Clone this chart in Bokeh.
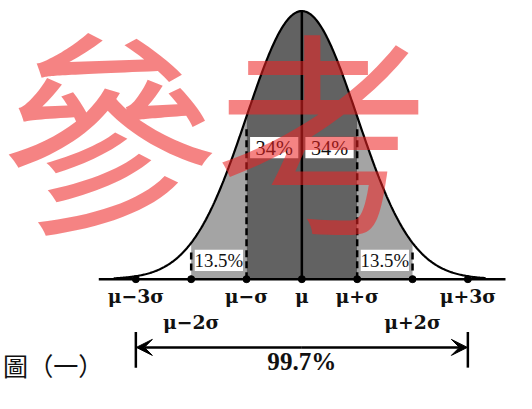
import numpy as np
from bokeh.plotting import figure
from bokeh.models import Range1d, Arrow, VeeHead
from bokeh.core.properties import value
from bokeh.embed import file_html
from bokeh.resources import INLINE

# ---- data ----
sigma_mult = [-3, -2, -1, 0, 1, 2, 3]
tick_labels = ["μ−3σ", "μ−2σ", "μ−σ", "μ", "μ+σ", "μ+2σ", "μ+3σ"]
label_row = [0, 1, 0, 0, 0, 1, 0]
band_centers = [-1.5, -0.5, 0.5, 1.5]
band_labels = ["13.5%", "34%", "34%", "13.5%"]
total_label = "99.7%"
caption = "圖（一）"
watermark = ["參", "考"]

# standard normal curve (peak scaled to 1)
xs = np.linspace(-3.4, 3.32, 400)
pdf = np.exp(-xs ** 2 / 2)

W, H = 516, 393
S = 0.965  # overall scale of text / marks
p = figure(width=W, height=H, output_backend="svg", toolbar_location=None,
           x_range=Range1d(-5.446, 3.879), y_range=Range1d(-0.4265, 1.0394),
           min_border=0)
p.axis.visible = False
p.xgrid.visible = False
p.ygrid.visible = False
p.outline_line_color = None
p.background_fill_color = "white"

DARK = "#626262"
LIGHT = "#a4a4a4"

def band(a, b, color):
    m = (xs > a) & (xs < b)
    xx = np.concatenate([[a], xs[m], [b]])
    yy = np.exp(-xx ** 2 / 2)
    p.varea(x=xx, y1=np.zeros_like(xx), y2=yy, fill_color=color)

band(-2, -1, LIGHT)
band(1, 2, LIGHT)
band(-1, 1, DARK)

p.line(xs, pdf, line_color="black", line_width=2.2)

# baseline
p.line([-3.67, 3.68], [0, 0], line_color="black", line_width=2.5)

# dashed sigma lines
for s in (-1, 1):
    p.line([s, s], [0, 0.563], line_color="black", line_width=2.5, line_dash="7 4")
for s in (-2, 2):
    p.line([s, s], [0.032, 0.100], line_color="black", line_width=2.5, line_dash="7 4")
# centre line
p.line([0, 0], [0, 1], line_color="black", line_width=2.5)

# label boxes
box_y = [0.0699, 0.491, 0.491, 0.0699]
p.rect(x=band_centers, y=box_y, width=[50 * S] * 4, height=[22 * S] * 4,
       width_units="screen", height_units="screen",
       fill_color="white", line_color=None)
p.text(x=band_centers, y=box_y, text=band_labels,
       text_font=value("Liberation Serif"),
       text_font_size=["%.1fpx" % (19.5 * S), "%.1fpx" % (21 * S),
                       "%.1fpx" % (21 * S), "%.1fpx" % (19.5 * S)],
       text_align="center", text_baseline="middle", text_color="#111111")

# points on baseline
p.scatter(sigma_mult, [0] * 7, size=7, color="black")

# tick labels
row_y = [-0.061, -0.158]
p.text(x=sigma_mult, y=[row_y[r] for r in label_row], text=tick_labels,
       text_font=value("DejaVu Serif"), text_font_style="bold",
       text_font_size="%.1fpx" % (19.5 * S), text_align="center",
       text_baseline="middle", text_color="#111111")

# 99.7% arrow
for s in (-3, 3):
    p.line([s, s], [-0.197, -0.330], line_color="black", line_width=2.5)
for s in (-3, 3):
    p.add_layout(Arrow(x_start=0, y_start=-0.2545, x_end=s * 0.997, y_end=-0.2545,
                       line_width=2.5, line_color="black",
                       end=VeeHead(size=16, fill_color="black", line_color="black")))
p.text(x=[0], y=[-0.308], text=[total_label],
       text_font=value("Liberation Serif"), text_font_style="bold",
       text_font_size="%.1fpx" % (26 * S), text_align="center",
       text_baseline="middle", text_color="#111111")

# caption
p.text(x=[-5.40], y=[-0.319], text=[caption],
       text_font=value("Noto Sans CJK TC"), text_font_size="%.1fpx" % (26 * S),
       text_align="left", text_baseline="middle", text_color="#111111")

# watermark
p.text(x=[-3.485, 0.373], y=[0.584, 0.577], text=watermark,
       text_font=value("Noto Sans CJK TC"), text_font_size="%.1fpx" % (226 * S),
       text_align="center", text_baseline="middle",
       text_color="#ee2222", text_alpha=0.56)

open("out.html", "w").write(file_html(p, INLINE))
